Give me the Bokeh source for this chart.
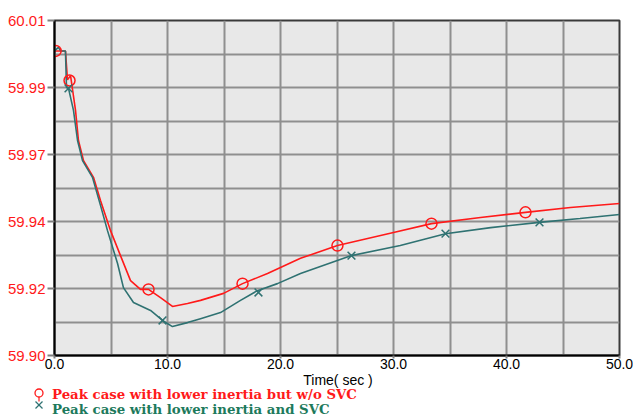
from bokeh.plotting import figure
from bokeh.layouts import column
from bokeh.models import Range1d, FixedTicker, CustomJSTickFormatter, Div
from bokeh.embed import file_html
from bokeh.resources import INLINE

# ---- data ----
t_red = [0.0, 0.97, 1.15, 1.42, 1.86, 2.12, 2.57, 3.45, 4.07, 4.96, 5.84, 6.73, 7.61, 8.32,
         9.38, 10.44, 11.77, 12.92, 14.96, 16.64, 18.85, 21.77, 25.04, 30.0, 33.36, 37.7,
         41.68, 45.66, 50.0]
v_red = [60.000, 60.000, 59.9905, 59.9919, 59.9805, 59.9706, 59.964, 59.9585, 59.9509, 59.941,
         59.9328, 59.9246, 59.9217, 59.9217, 59.919, 59.9161, 59.9171, 59.9181, 59.9204,
         59.9236, 59.9269, 59.9319, 59.9361, 59.9404, 59.9433, 59.9453, 59.947, 59.9486, 59.9499]

t_svc = [0.0, 0.35, 0.55, 0.97, 1.06, 1.24, 1.68, 2.04, 2.48, 3.36, 4.07, 4.69, 5.58, 6.1,
         6.99, 8.5, 9.56, 10.44, 11.77, 12.92, 14.69, 16.46, 17.96, 19.73, 21.77, 26.28,
         30.6, 34.6, 38.6, 42.9, 46.5, 50.0]
v_svc = [60.000, 60.0012, 60.000, 60.000, 59.988, 59.9877, 59.9805, 59.9706, 59.964, 59.9585,
         59.9493, 59.941, 59.9302, 59.9223, 59.9174, 59.9148, 59.9115, 59.9095, 59.9108,
         59.9121, 59.9141, 59.9181, 59.9213, 59.9236, 59.9269, 59.9328, 59.9361, 59.940,
         59.942, 59.9437, 59.945, 59.9463]

mk_t_red = [0.1, 1.33, 8.32, 16.64, 25.04, 33.36, 41.68]
mk_v_red = [60.000, 59.9903, 59.9217, 59.9236, 59.9361, 59.9433, 59.947]
mk_t_svc = [1.24, 9.56, 18.05, 26.28, 34.6, 42.92]
mk_v_svc = [59.9877, 59.9115, 59.9207, 59.9328, 59.940, 59.9437]

y_ticks = [59.90, 59.922, 59.944, 59.966, 59.988, 60.01]
y_grid = [59.90 + 0.011 * i for i in range(11)]
x_ticks = [0, 10, 20, 30, 40, 50]
x_grid = [0, 5, 10, 15, 20, 25, 30, 35, 40, 45, 50]
series_labels = ["Peak case with lower inertia but w/o SVC",
                 "Peak case with lower inertia and SVC"]
x_title = "Time( sec )"

RED = "#ff1a1a"
TEAL = "#2f7272"
GREEN_TXT = "#1d7a5c"

p = figure(width=633, height=376, output_backend="svg", toolbar_location=None,
           x_range=Range1d(0, 50), y_range=Range1d(59.90, 60.01),
           min_border_left=54, min_border_right=14, min_border_top=20, min_border_bottom=21)
p.background_fill_color = "#e8e8e8"
p.border_fill_color = "white"
p.outline_line_color = "#3a3a3a"
p.outline_line_width = 2

p.xgrid.ticker = FixedTicker(ticks=x_grid)
p.ygrid.ticker = FixedTicker(ticks=y_grid)
for g in (p.xgrid, p.ygrid):
    g.grid_line_color = "#8f8f8f"
    g.grid_line_width = 2

p.xaxis.ticker = FixedTicker(ticks=x_ticks, minor_ticks=[])
p.yaxis.ticker = FixedTicker(ticks=y_ticks, minor_ticks=[])
p.xaxis.formatter = CustomJSTickFormatter(code="return tick.toFixed(1);")
p.yaxis.formatter = CustomJSTickFormatter(code="return tick.toFixed(2);")
for ax in (p.xaxis, p.yaxis):
    ax.axis_line_color = "black"
    ax.axis_line_width = 2
    ax.major_tick_line_color = "#808080"
    ax.major_tick_line_width = 2
    ax.major_tick_in = 0
    ax.minor_tick_line_color = None
    ax.major_label_text_font = "Liberation Sans"
p.yaxis.major_label_text_font_size = "15px"
p.yaxis.major_tick_out = 7
p.yaxis.major_label_standoff = 2
p.yaxis.major_label_text_color = RED
p.yaxis.major_label_text_baseline = "bottom"
p.xaxis.major_label_text_font_size = "14px"
p.xaxis.major_tick_out = 3
p.xaxis.major_label_standoff = 0
p.xaxis.major_label_text_color = "black"
p.xaxis.major_label_text_align = "left"

p.line(t_red, v_red, line_color=RED, line_width=1.6)
p.line(t_svc, v_svc, line_color=TEAL, line_width=1.6)
p.scatter(mk_t_red, mk_v_red, marker="circle", size=11, fill_color=None,
          line_color=RED, line_width=1.5)
p.scatter(mk_t_svc, mk_v_svc, marker="x", size=11, line_color=TEAL, line_width=1.5)

# ---- axis title and legend strip below the plot ----
html = f"""
<div style="position:relative;width:633px;height:43px;margin:0;padding:0;overflow:visible;">
  <span style="position:absolute;left:338px;top:-2px;transform:translateX(-50%);white-space:nowrap;
        font-family:'Liberation Sans';font-size:14px;line-height:13px;color:black;">{x_title}</span>
  <svg style="position:absolute;left:0;top:0;overflow:visible;" width="633" height="43">
    <line x1="39" y1="21" x2="39" y2="25.5" stroke="{RED}" stroke-width="1.2"/>
    <circle cx="39" cy="17" r="4" fill="none" stroke="{RED}" stroke-width="1.3"/>
    <line x1="35.5" y1="25.5" x2="42.5" y2="32.5" stroke="{TEAL}" stroke-width="1.3"/>
    <line x1="42.5" y1="25.5" x2="35.5" y2="32.5" stroke="{TEAL}" stroke-width="1.3"/>
  </svg>
  <span style="position:absolute;left:52px;top:11.5px;white-space:nowrap;font-family:'DejaVu Serif';
        font-weight:bold;font-size:13.3px;line-height:13px;color:{RED};">{series_labels[0]}</span>
  <span style="position:absolute;left:52px;top:27px;white-space:nowrap;font-family:'DejaVu Serif';
        font-weight:bold;font-size:13.3px;line-height:13px;color:{GREEN_TXT};">{series_labels[1]}</span>
</div>
"""
legend_div = Div(text=html, width=633, height=43, margin=0)

open("out.html", "w").write(file_html(column(p, legend_div, spacing=0), INLINE))
